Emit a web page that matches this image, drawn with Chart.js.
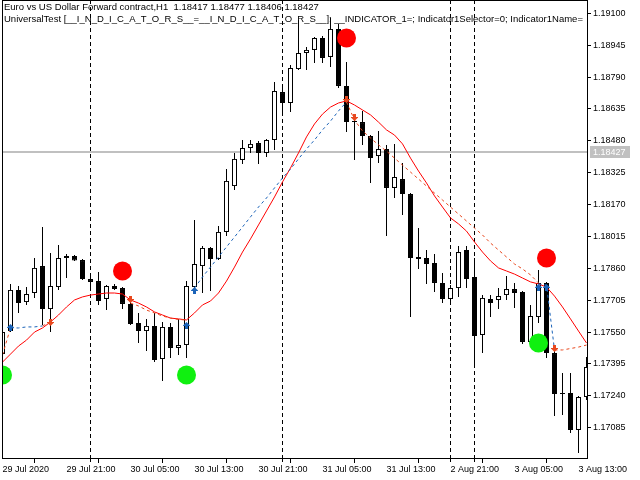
<!DOCTYPE html>
<html><head><meta charset="utf-8">
<script src="https://cdn.jsdelivr.net/npm/chart.js@4.4.1/dist/chart.umd.min.js"></script>
<style>html,body{margin:0;padding:0;background:#fff;}canvas{display:block;}</style>
</head><body>
<canvas id="c" width="640" height="480" style="width:640px;height:480px"></canvas>
<script>
const symbolTitle = "Euro vs US Dollar Forward contract,H1  1.18417 1.18477 1.18406 1.18427";
const indicatorTitle = "UniversalTest [__I_N_D_I_C_A_T_O_R_S__=__I_N_D_I_C_A_T_O_R_S__]; __INDICATOR_1=; Indicator1Selector=0; Indicator1Name=";
const bidPrice = 1.18427;

const xTickIdx = [0, 8, 16, 24, 32, 40, 48, 56, 64, 72];
const xTickLabels = ["29 Jul 2020", "29 Jul 21:00", "30 Jul 05:00", "30 Jul 13:00", "30 Jul 21:00",
  "31 Jul 05:00", "31 Jul 13:00", "2 Aug 21:00", "3 Aug 05:00", "3 Aug 13:00"];
const yTickLabels = ["1.19100", "1.18945", "1.18790", "1.18635", "1.18480", "1.18325", "1.18170",
  "1.18015", "1.17860", "1.17705", "1.17550", "1.17395", "1.17240", "1.17085"];
const separatorIdx = [11, 35, 56, 59];

const opens = [1.17443,1.17555,1.17755,1.17696,1.17740,1.17871,1.17662,1.17769,1.17910,1.17920,
  1.17900,1.17808,1.17798,1.17711,1.17774,1.17764,1.17687,1.17594,1.17555,1.17580,
  1.17419,1.17575,1.17473,1.17487,1.17769,1.17871,1.17959,1.17905,1.18037,1.18260,
  1.18387,1.18445,1.18469,1.18421,1.18484,1.18717,1.18664,1.18829,1.18907,1.18922,
  1.18980,1.18888,1.19024,1.18747,1.18571,1.18571,1.18503,1.18406,1.18440,1.18251,
  1.18294,1.18221,1.17915,1.17910,1.17886,1.17789,1.17711,1.17764,1.17949,1.17818,
  1.17536,1.17711,1.17706,1.17730,1.17759,1.17745,1.17502,1.17623,1.17789,1.17448,
  1.17254,1.17254,1.17074,1.17234];
const highs = [1.17584,1.17784,1.17774,1.17769,1.17910,1.18061,1.17935,1.17973,1.17930,1.17925,
  1.17905,1.17832,1.17842,1.17779,1.17784,1.17769,1.17696,1.17643,1.17614,1.17643,
  1.17599,1.17594,1.17614,1.17798,1.18095,1.17969,1.17964,1.18066,1.18343,1.18421,
  1.18484,1.18484,1.18479,1.18489,1.18766,1.18756,1.18849,1.19067,1.18936,1.18985,
  1.18990,1.19077,1.19048,1.18863,1.18591,1.18625,1.18508,1.18528,1.18460,1.18465,
  1.18372,1.18226,1.18056,1.17949,1.17930,1.17837,1.17779,1.17969,1.17969,1.17910,
  1.17730,1.17730,1.17764,1.17823,1.17789,1.17750,1.17682,1.17852,1.17794,1.17463,
  1.17351,1.17351,1.17239,1.17429];
const lows = [1.17390,1.17550,1.17643,1.17682,1.17716,1.17584,1.17550,1.17755,1.17813,1.17896,
  1.17803,1.17769,1.17682,1.17657,1.17755,1.17662,1.17584,1.17497,1.17458,1.17405,
  1.17312,1.17424,1.17439,1.17424,1.17764,1.17740,1.17750,1.17900,1.18017,1.18241,
  1.18367,1.18421,1.18367,1.18401,1.18435,1.18620,1.18620,1.18824,1.18824,1.18858,
  1.18858,1.18839,1.18737,1.18523,1.18387,1.18460,1.18275,1.18372,1.18017,1.18202,
  1.18119,1.17623,1.17857,1.17784,1.17745,1.17691,1.17691,1.17721,1.17764,1.17390,
  1.17448,1.17623,1.17662,1.17706,1.17667,1.17492,1.17497,1.17594,1.17424,1.17142,
  1.17147,1.17059,1.16962,1.17220];
const closes = [1.17550,1.17755,1.17691,1.17735,1.17862,1.17662,1.17774,1.17910,1.17920,1.17898,
  1.17808,1.17794,1.17701,1.17774,1.17759,1.17687,1.17589,1.17555,1.17580,1.17414,
  1.17575,1.17473,1.17487,1.17774,1.17881,1.17959,1.17905,1.18037,1.18285,1.18392,
  1.18445,1.18465,1.18421,1.18484,1.18722,1.18664,1.18834,1.18907,1.18922,1.18980,
  1.18883,1.19024,1.18747,1.18571,1.18576,1.18503,1.18396,1.18440,1.18251,1.18304,
  1.18221,1.17910,1.17905,1.17881,1.17789,1.17711,1.17764,1.17939,1.17808,1.17531,
  1.17716,1.17691,1.17725,1.17759,1.17740,1.17502,1.17628,1.17789,1.17448,1.17249,
  1.17249,1.17074,1.17234,1.17380];

const maLine = [1.17404,1.17443,1.17482,1.17511,1.17550,1.17570,1.17599,1.17633,1.17672,1.17706,
  1.17721,1.17730,1.17735,1.17740,1.17740,1.17735,1.17706,1.17691,1.17672,1.17648,
  1.17633,1.17618,1.17614,1.17609,1.17643,1.17682,1.17701,1.17740,1.17798,1.17866,
  1.17939,1.18003,1.18071,1.18139,1.18207,1.18280,1.18348,1.18421,1.18499,1.18562,
  1.18610,1.18644,1.18664,1.18674,1.18654,1.18630,1.18606,1.18571,1.18533,1.18508,
  1.18465,1.18396,1.18333,1.18275,1.18212,1.18158,1.18105,1.18076,1.18041,1.17988,
  1.17939,1.17896,1.17862,1.17847,1.17832,1.17813,1.17794,1.17784,1.17769,1.17725,
  1.17672,1.17614,1.17555,1.17497];

const redDash = [1.17439,1.17570,null,null,null,1.17580,1.17599,null,null,null,
  null,null,null,null,null,null,1.17691,1.17677,1.17657,1.17643,
  1.17628,1.17618,1.17611,1.17609,null,null,null,null,null,null,
  null,null,null,null,null,null,null,null,null,null,
  null,null,null,1.18669,1.18581,1.18528,1.18494,1.18460,1.18430,1.18396,
  1.18362,1.18328,1.18294,1.18260,1.18226,1.18192,1.18158,1.18124,1.18090,1.18056,
  1.18022,1.17983,1.17949,1.17915,1.17881,1.17857,1.17828,1.17789,null,1.17463,
  1.17463,1.17470,1.17477,1.17487];
const blueDash = [null,1.17570,1.17570,1.17575,1.17575,1.17580,null,null,null,null,
  null,null,null,null,null,null,null,null,null,null,
  null,null,null,null,1.17764,1.17818,1.17866,1.17915,1.17964,1.18012,
  1.18061,1.18110,1.18158,1.18202,1.18251,1.18299,1.18343,1.18392,1.18440,1.18484,
  1.18533,1.18576,1.18625,1.18669,null,null,null,null,null,null,
  null,null,null,null,null,null,null,null,null,null,
  null,null,null,null,null,null,null,1.17784,1.17779,1.17463,
  null,null,null,null];

const buyIdx = [1, 23, 24, 67, 68];
const buyPrice = [1.17572, 1.17584, 1.17752, 1.17767, 1.17767];
const sellIdx = [6, 16, 43, 44, 69];
const sellPrice = [1.17596, 1.17706, 1.18683, 1.18593, 1.17470];
const redDotIdx = [15, 43, 68];
const redDotPrice = [1.17847, 1.18980, 1.17910];
const greenDotIdx = [0, 23, 67];
const greenDotPrice = [1.17341, 1.17341, 1.17497];

const XMIN = -0.0625, XMAX = 73.0625;
const YMIN = 1.169377, YMAX = 1.191647;

const FONT = '"Liberation Sans", Arial, sans-serif';
Chart.defaults.font.family = FONT;
Chart.defaults.font.size = 9;
Chart.defaults.color = '#000';

function makeArrow(color, up) {
  const c = document.createElement('canvas');
  c.width = 7; c.height = 7;
  const g = c.getContext('2d');
  g.fillStyle = color;
  g.beginPath();
  if (up) {
    g.moveTo(3.5, 0); g.lineTo(7, 3.5); g.lineTo(7, 4); g.lineTo(0, 4); g.lineTo(0, 3.5); g.closePath(); g.fill();
    g.fillRect(2, 4, 3, 3);
  } else {
    g.moveTo(3.5, 7); g.lineTo(7, 3.5); g.lineTo(7, 3); g.lineTo(0, 3); g.lineTo(0, 3.5); g.closePath(); g.fill();
    g.fillRect(2, 0, 3, 3);
  }
  return c;
}
const BLUE = '#1B63B8', ORANGE = '#E8481E';

const idx = opens.map((_, i) => i);
const bodies = idx.map(i => ({x: i, y: [opens[i], closes[i]]}));
const wicks = idx.map(i => ({x: i, y: [lows[i], highs[i]]}));
const pts = (arr) => arr.map((v, i) => ({x: i, y: v}));
const pair = (ix, vals) => ix.map((x, i) => ({x, y: vals[i]}));

const framePlugin = {
  id: 'mtframe',
  beforeDatasetsDraw(chart) {
    const {ctx, chartArea: a, scales} = chart;
    ctx.save();
    const yb = Math.round(scales.y.getPixelForValue(bidPrice));
    ctx.fillStyle = '#C0C0C0';
    ctx.fillRect(a.left, yb - 1, a.right - a.left, 2);
    ctx.strokeStyle = '#000';
    ctx.lineWidth = 1;
    ctx.setLineDash([4, 3]);
    separatorIdx.forEach(k => {
      const x = Math.floor(scales.x.getPixelForValue(k)) + 0.5;
      ctx.beginPath(); ctx.moveTo(x, a.top); ctx.lineTo(x, a.bottom); ctx.stroke();
    });
    ctx.restore();
    ctx.imageSmoothingEnabled = false;
  },
  afterDatasetsDraw(chart) {
    const {ctx, chartArea: a, scales} = chart;
    ctx.save();
    ctx.beginPath(); ctx.rect(a.left, a.top, a.right - a.left, a.bottom - a.top); ctx.clip();
    ctx.fillStyle = '#000';
    ctx.font = '9.5px ' + FONT;
    ctx.textBaseline = 'alphabetic';
    ctx.textAlign = 'left';
    ctx.fillText(symbolTitle, 4, 10);
    ctx.fillText(indicatorTitle, 4, 22);
    ctx.restore();
    ctx.save();
    ctx.fillStyle = '#000';
    ctx.fillRect(a.left, a.top, 1, a.bottom - a.top);
    ctx.fillRect(a.left, a.top, a.right - a.left, 1);
    separatorIdx.forEach(k => {
      const x = Math.floor(scales.x.getPixelForValue(k));
      ctx.fillRect(x, a.bottom + 1, 1, 3);
    });
    ctx.restore();
  },
  afterDraw(chart) {
    const {ctx, chartArea: a, scales} = chart;
    const yb = scales.y.getPixelForValue(bidPrice);
    ctx.save();
    ctx.fillStyle = '#C0C0C0';
    ctx.fillRect(a.right + 3, Math.round(yb) - 6, 40, 12);
    ctx.fillStyle = '#fff';
    ctx.font = '9px ' + FONT;
    ctx.textBaseline = 'middle';
    ctx.fillText(bidPrice.toFixed(5), a.right + 6, Math.round(yb) + 0.5);
    ctx.restore();
  }
};

new Chart(document.getElementById('c'), {
  type: 'bar',
  data: {
    datasets: [
      {type: 'line', data: pair(redDotIdx, redDotPrice), showLine: false, pointRadius: 9.5,
        pointBackgroundColor: '#FF0000', pointBorderWidth: 0, order: 0, clip: 0},
      {type: 'line', data: pair(greenDotIdx, greenDotPrice), showLine: false, pointRadius: 9.5,
        pointBackgroundColor: '#10F010', pointBorderWidth: 0, order: 0, clip: 0},
      {type: 'line', data: pair(buyIdx, buyPrice), showLine: false,
        pointStyle: makeArrow(BLUE, true), order: 1, clip: 0},
      {type: 'line', data: pair(sellIdx, sellPrice), showLine: false,
        pointStyle: makeArrow(ORANGE, false), order: 1, clip: 0},
      {type: 'line', data: pts(blueDash), borderColor: BLUE, borderWidth: 1, borderDash: [3, 3],
        pointRadius: 0, spanGaps: false, tension: 0, order: 2, clip: 0},
      {type: 'line', data: pts(redDash), borderColor: ORANGE, borderWidth: 1, borderDash: [3, 3],
        pointRadius: 0, spanGaps: false, tension: 0, order: 2, clip: 0},
      {type: 'line', data: pts(maLine), borderColor: '#FF0000', borderWidth: 1,
        pointRadius: 0, tension: 0, order: 3, clip: 0},
      {type: 'bar', data: bodies, grouped: false, barThickness: 5, borderWidth: 1,
        borderColor: '#000', borderSkipped: false, inflateAmount: 0, minBarLength: 1,
        backgroundColor: (c) => (c.raw && c.raw.y[1] >= c.raw.y[0]) ? '#FFFFFF' : '#000000',
        order: 4, clip: 0},
      {type: 'bar', data: wicks, grouped: false, barThickness: 1, borderWidth: 0,
        backgroundColor: '#000', inflateAmount: 0, order: 5, clip: 0}
    ]
  },
  options: {
    responsive: false,
    animation: false,
    events: [],
    layout: {autoPadding: false, padding: {left: 2, top: 0, right: 0, bottom: 0}},
    plugins: {legend: {display: false}, tooltip: {enabled: false}},
    scales: {
      x: {
        type: 'linear', min: XMIN, max: XMAX, offset: false,
        afterBuildTicks: s => { s.ticks = xTickIdx.map(v => ({value: v})); },
        afterFit: s => { s.height = 22; s.paddingLeft = 0; s.paddingRight = 0; },
        grid: {drawOnChartArea: false, drawTicks: true, tickLength: 5, color: '#000'},
        border: {display: true, color: '#000'},
        ticks: {autoSkip: false, maxRotation: 0, minRotation: 0, align: 'start', padding: 1,
          color: '#000', font: {size: 9}, callback: (v, i) => xTickLabels[i]}
      },
      y: {
        type: 'linear', position: 'right', min: YMIN, max: YMAX,
        afterBuildTicks: s => { s.ticks = yTickLabels.map(t => ({value: parseFloat(t)})); },
        afterFit: s => { s.width = 53; s.paddingTop = 0; s.paddingBottom = 0; },
        grid: {drawOnChartArea: false, drawTicks: true, tickLength: 4, color: '#000'},
        border: {display: true, color: '#000'},
        ticks: {padding: 2, color: '#000', font: {size: 9},
          callback: (v, i) => yTickLabels[i]}
      }
    }
  },
  plugins: [framePlugin]
});
</script>
</body></html>
